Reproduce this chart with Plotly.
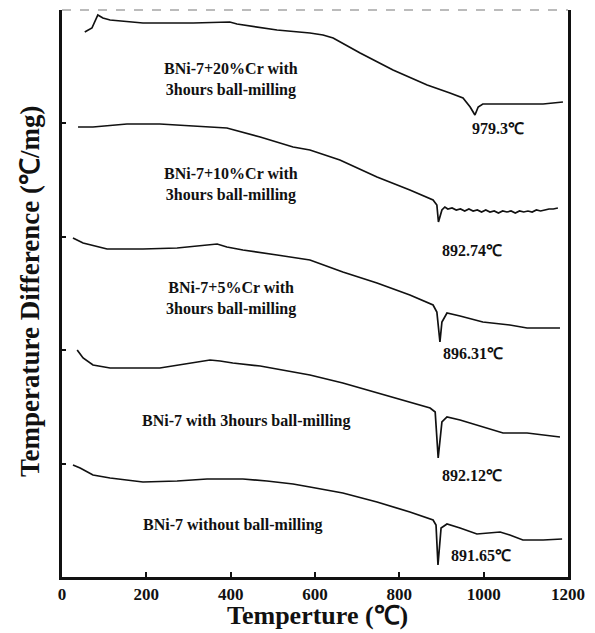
import plotly.graph_objects as go

# Temperature (°C) and DTA signal (arbitrary units)
x_20cr = [54, 71, 85, 97, 114, 192, 311, 398, 415, 510, 588, 619, 643, 707, 785,
          866, 920, 951, 968, 979.3, 987, 998, 1032, 1141, 1188]
y_20cr = [545, 549, 562, 559, 557, 554, 554, 555, 553, 547, 544, 542, 539, 524, 507,
          492, 484, 479, 470, 462, 470, 473, 473, 473, 475]

x_10cr = [38, 73.5, 154, 232, 311, 375, 391, 470, 548, 588, 659, 747, 825, 880, 889,
          892.74, 901, 908, 915, 925, 935, 945, 955, 965, 975, 985, 995, 1005, 1015,
          1025, 1035, 1045, 1055, 1065, 1075, 1085, 1095, 1105, 1115, 1125, 1135,
          1145, 1155, 1165, 1176]
y_10cr = [450, 450, 453, 453, 451, 450, 449, 440, 430, 427, 417, 400, 387, 377, 372,
          355, 367, 370, 368, 369, 367, 368, 366, 368, 366, 367, 365, 367, 365,
          366, 364, 366, 365, 366, 364, 366, 365, 366, 365, 367, 366,
          367, 368, 368, 369]

x_5cr = [26, 50, 107, 192, 273, 344, 368, 391, 429, 510, 588, 666, 747, 825, 880,
         889, 896.31, 901, 913, 944, 998, 1062, 1103, 1181]
y_5cr = [339, 334, 328, 328, 329, 332, 333, 330, 327, 322, 317, 305, 294, 282, 272,
         265, 235, 255, 264, 261, 255, 252, 249, 249]

x_3h = [36, 50, 73.5, 114, 232, 311, 351, 375, 405, 470, 548, 588, 666, 747, 825,
        873, 885, 892.12, 901, 913, 944, 998, 1046, 1103, 1181]
y_3h = [227, 219, 212, 209, 209, 214, 217, 216, 214, 211, 205, 202, 194, 184, 175,
        169, 165, 119, 155, 160, 157, 150, 144, 144, 140]

x_raw = [26, 43, 73.5, 114, 192, 273, 344, 429, 486, 548, 588, 666, 747, 825, 880,
         887, 891.65, 899, 913, 944, 984, 1015, 1039, 1062, 1093, 1141, 1186]
y_raw = [112, 109, 102, 99, 95, 96, 98, 98, 96, 93, 90, 84, 75, 65, 57,
         52, 12, 49, 53, 49, 43, 44, 45, 42, 37, 37, 38]

series = [(x_20cr, y_20cr), (x_10cr, y_10cr), (x_5cr, y_5cr), (x_3h, y_3h), (x_raw, y_raw)]

label_texts = ["BNi-7+20%Cr with<br>3hours ball-milling",
               "BNi-7+10%Cr with<br>3hours ball-milling",
               "BNi-7+5%Cr with<br>3hours ball-milling",
               "BNi-7 with 3hours ball-milling",
               "BNi-7 without ball-milling",
               "979.3℃", "892.74℃", "896.31℃", "892.12℃", "891.65℃"]
label_pos = [(401, 498),
             (401, 393),
             (401, 279),
             (436, 156),
             (405, 52),
             (1034, 449), (972, 327), (975, 224), (972, 102), (994, 22)]

x_ticks = [0, 200, 400, 600, 800, 1000, 1200]
x_title = "Temperture (℃)"
y_title = "Temperature Difference (℃/mg)"

FONT = "Liberation Serif, Times New Roman, serif"

fig = go.Figure()
for xs, ys in series:
    fig.add_trace(go.Scatter(x=xs, y=ys, mode="lines",
                             line=dict(color="#111111", width=1.7),
                             showlegend=False, hoverinfo="skip"))

for txt, (lx, ly) in zip(label_texts, label_pos):
    fig.add_annotation(x=lx, y=ly, text="<b>" + txt + "</b>", showarrow=False,
                       xanchor="center", yanchor="middle", align="center",
                       font=dict(family=FONT, size=16, color="#111111"))

# axis titles
fig.add_annotation(xref="paper", yref="paper", x=0.504, y=-0.068,
                   text="<b>" + x_title + "</b>", showarrow=False,
                   xanchor="center", yanchor="middle", borderpad=0,
                   font=dict(family=FONT, size=26, color="#111111"))
fig.add_annotation(xref="paper", yref="paper", x=-0.063, y=0.503,
                   text="<b>" + y_title + "</b>", showarrow=False, textangle=-90,
                   xanchor="center", yanchor="middle",
                   font=dict(family=FONT, size=27, color="#111111"))

# light dashed top edge
fig.add_shape(type="line", xref="paper", yref="paper", x0=0, x1=1, y0=1, y1=1,
              line=dict(color="#bbbbbb", width=2, dash="dash"))

fig.update_layout(
    width=595, height=633,
    margin=dict(l=62, r=27, t=10, b=56),
    paper_bgcolor="white", plot_bgcolor="white",
    font=dict(family=FONT, color="#111111"),
    xaxis=dict(range=[0, 1200], tickvals=x_ticks,
               ticktext=["<b>%d</b>" % v for v in x_ticks],
               ticks="inside", ticklen=5, tickwidth=1.5, tickcolor="#111111",
               ticklabelstandoff=0, automargin=False,
               showline=True, linecolor="#111111", linewidth=2.5, mirror=False,
               showgrid=False, zeroline=False,
               tickfont=dict(family=FONT, size=17, color="#111111")),
    yaxis=dict(range=[0, 567], tick0=0, dtick=113.4,
               ticks="inside", ticklen=4, tickwidth=1.5, tickcolor="#111111",
               showticklabels=False, automargin=False,
               showline=True, linecolor="#111111", linewidth=2.5, mirror=True,
               showgrid=False, zeroline=False),
)

fig.write_html("out.html")
